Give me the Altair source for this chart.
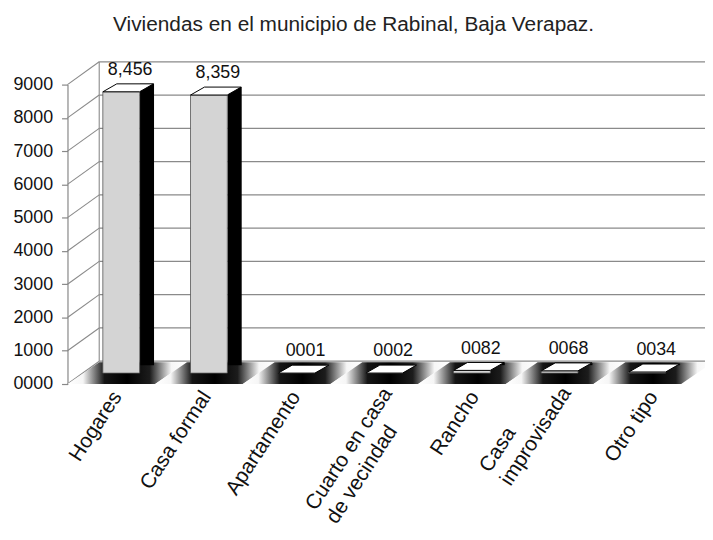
import math
import altair as alt
import pandas as pd

# ---- data ----
categories = ["Hogares", "Casa formal", "Apartamento", "Cuarto en casa\nde vecindad",
              "Rancho", "Casa\nimprovisada", "Otro tipo"]
values = [8456, 8359, 1, 2, 82, 68, 34]
tick_values = [0, 1000, 2000, 3000, 4000, 5000, 6000, 7000, 8000, 9000]
title_text = "Viviendas en el municipio de Rabinal, Baja Verapaz."

# ---- layout / style constants ----
W, H = 619, 302
DX, DY = 32, 23           # depth offset of the back wall (pixels)
FONT = "Liberation Sans"
GRID = "#8a8a8a"
XL_SIZE, XL_ANGLE, XL_LH, XL_PAD = 21, 57, 25, 3
CHAR_W = 0.47 * XL_SIZE   # approx. average glyph width

df = pd.DataFrame({"cat": categories, "v": values})
ticks_df = pd.DataFrame({"t": tick_values})

yscale = alt.Scale(domain=[0, 9000], nice=False, zero=True)
Y_AXIS = alt.Axis(values=tick_values, format="04d", title=None, grid=False,
                  domain=True, domainColor="#888", domainWidth=1.2,
                  ticks=True, tickColor="#888", tickSize=6, tickWidth=1.2,
                  labelFont=FONT, labelFontSize=18, labelColor="#111",
                  labelPadding=9)
xband = alt.Scale(type="band", paddingInner=0, paddingOuter=0)
X = alt.X("cat:N", sort=categories, scale=xband, axis=None)
YV = alt.Y("v:Q", scale=yscale, axis=Y_AXIS)

TOP_PATH = "M-1,0.157L0.451,0.157L1,-0.157L-0.451,-0.157Z"
FLOOR_PATH = "M-1,0.183L0.468,0.183L1,-0.183L-0.468,-0.183Z"

floor_grad = alt.Gradient(
    gradient="linear", x1=0, x2=1, y1=0, y2=0,
    stops=[alt.GradientStop(color="#ffffff", offset=0),
           alt.GradientStop(color="#f6f6f6", offset=0.13),
           alt.GradientStop(color="#151515", offset=0.31),
           alt.GradientStop(color="#000000", offset=0.5),
           alt.GradientStop(color="#1c1c1c", offset=0.69),
           alt.GradientStop(color="#f6f6f6", offset=0.87),
           alt.GradientStop(color="#ffffff", offset=1)])

grid = alt.Chart(ticks_df).mark_rule(color=GRID, strokeWidth=1.3, yOffset=-DY).encode(
    y=alt.Y("t:Q", scale=yscale, axis=Y_AXIS),
    x=alt.value(DX), x2=alt.value(W + DX + 30))

connectors = alt.Chart(ticks_df).mark_rule(color=GRID, strokeWidth=1.1, y2Offset=-DY).encode(
    y=alt.Y("t:Q", scale=yscale, axis=Y_AXIS), y2=alt.Y2("t"),
    x=alt.value(0), x2=alt.value(DX))

wall = alt.Chart(alt.Data(values=[{}])).mark_rule(
    color=GRID, strokeWidth=1.1, yOffset=-DY, y2Offset=-DY).encode(
    x=alt.value(DX), y=alt.YDatum(0, scale=yscale, axis=Y_AXIS), y2=alt.Y2Datum(9000))

floor = alt.Chart(df).mark_point(
    shape=FLOOR_PATH, size=14496, filled=True, fill=floor_grad, opacity=1,
    strokeWidth=0, xOffset=16, yOffset=-11).encode(
    x=X, y=alt.YDatum(0, scale=yscale, axis=Y_AXIS))

side = alt.Chart(df).mark_bar(
    color="#000000", width=alt.RelativeBandSize(0.16), xOffset=36,
    yOffset=-19, y2Offset=-8).encode(x=X, y=YV)

front = alt.Chart(df).mark_bar(
    fill="#d4d4d4", stroke="#555555", strokeWidth=0.8,
    width=alt.RelativeBandSize(0.42), xOffset=10, yOffset=-11, y2Offset=-8).encode(x=X, y=YV)

top = alt.Chart(df).mark_point(
    shape=TOP_PATH, size=2601, filled=True, fill="#ffffff", stroke="#000000",
    strokeWidth=1, opacity=1, xOffset=17, yOffset=-15).encode(x=X, y=YV)

labels = alt.Chart(df).transform_calculate(
    lbl="datum.v >= 1000 ? format(datum.v, ',') : format(datum.v, '04d')"
).mark_text(font=FONT, fontSize=18, color="#111", baseline="alphabetic",
            xOffset=19, yOffset=-28).encode(x=X, y=YV, text="lbl:N")

# Two-line category labels: lines start-aligned, block hung from its top-right end
ca, sa = math.cos(math.radians(XL_ANGLE)), math.sin(math.radians(XL_ANGLE))
off_conds, pad_conds = [], []
for c in categories:
    if "\n" not in c:
        continue
    l0, l1 = c.split("\n")
    w = max(len(l0), len(l1)) * CHAR_W
    sx, sy = -w * ca, w * sa
    if len(l1) > len(l0):
        sx -= XL_LH * sa
        sy -= XL_LH * ca
    test = "datum.label == '" + c.replace("\n", "\\n") + "'"
    off_conds.append({"test": test, "value": round(sx, 1)})
    pad_conds.append({"test": test, "value": round(XL_PAD + sy, 1)})

xlabels = alt.Chart(df).mark_point(opacity=0).encode(
    x=alt.X("cat:N", sort=categories,
            scale=alt.Scale(type="band", paddingInner=0, paddingOuter=0, range=[-4, 627]),
            axis=alt.Axis(title=None, domain=False, ticks=False, labelAngle=-XL_ANGLE,
                          labelAlign={"condition": {"test": "indexof(datum.label, '\\n') >= 0",
                                                    "value": "left"},
                                      "value": "right"},
                          labelBaseline="top",
                          labelFont=FONT, labelFontSize=XL_SIZE, labelColor="#111",
                          labelPadding={"condition": pad_conds, "value": XL_PAD},
                          labelOffset={"condition": off_conds, "value": 0},
                          labelLineHeight=XL_LH,
                          labelOverlap=False, labelBound=False, labelFlush=False,
                          labelLimit=0, labelExpr="split(datum.label, '\\n')")),
    y=alt.YDatum(0, scale=yscale, axis=Y_AXIS))

chart = alt.layer(grid, connectors, wall, floor, side, front, top, labels, xlabels).resolve_scale(
    x="independent").properties(
    width=W, height=H,
    title=alt.TitleParams(text=title_text, font=FONT, fontSize=21, fontWeight="normal",
                          color="#222", anchor="middle", dx=-21, offset=26),
    padding={"left": 60, "top": 75, "right": 24, "bottom": 147},
    autosize=alt.AutoSizeParams(type="none"),
    background="white",
).configure_view(stroke=None)

chart.save("out.html", embed_options={"renderer": "svg", "actions": False})
